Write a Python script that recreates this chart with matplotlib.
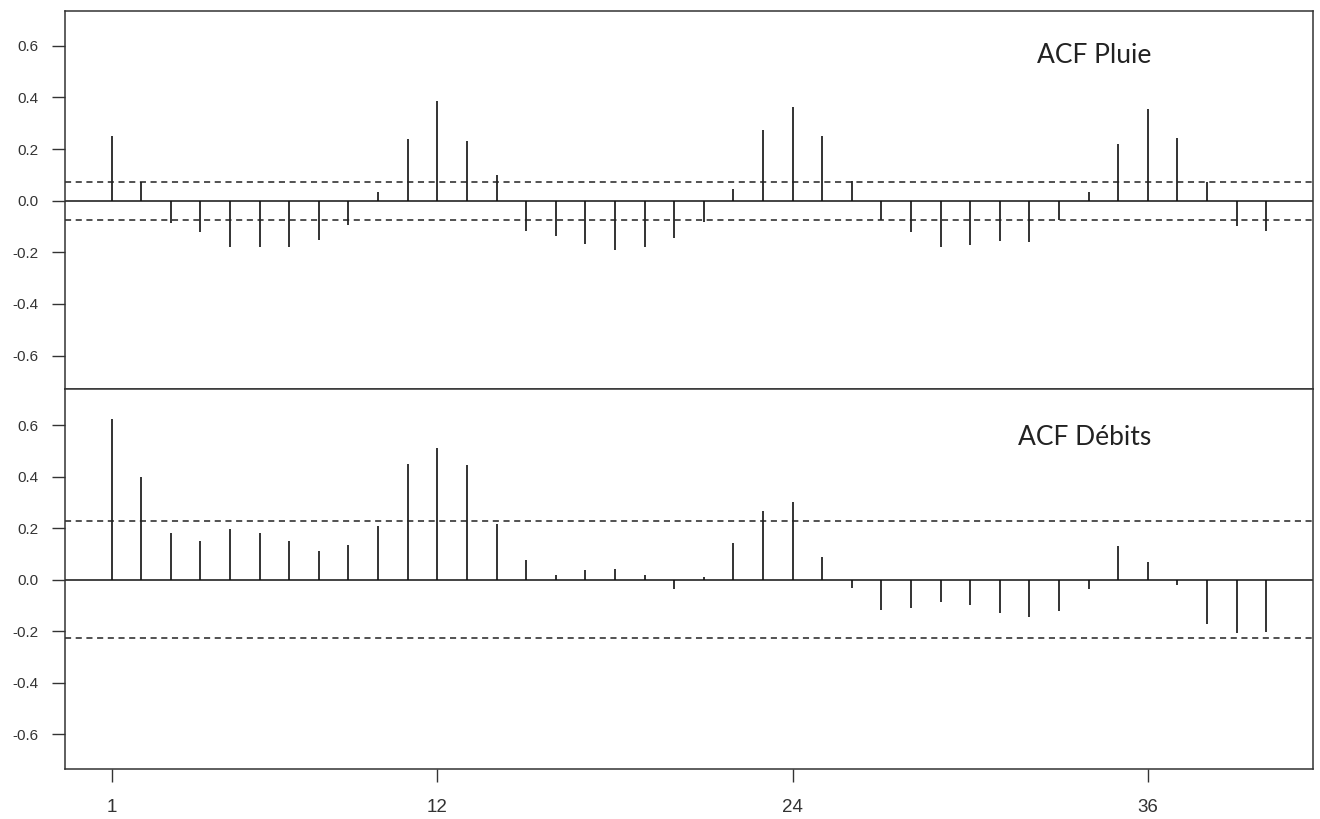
import matplotlib
matplotlib.use("Agg")
import matplotlib.pyplot as plt
import numpy as np

lags = np.arange(1, 41)

acf_pluie = [
    0.250, 0.072, -0.085, -0.120, -0.179, -0.179, -0.179, -0.151, -0.093, 0.035,
    0.239, 0.387, 0.233, 0.098, -0.116, -0.138, -0.168, -0.190, -0.180, -0.145,
    -0.081, 0.045, 0.272, 0.362, 0.250, 0.078, -0.074, -0.121, -0.179, -0.172,
    -0.155, -0.160, -0.074, 0.034, 0.220, 0.356, 0.243, 0.071, -0.098, -0.116,
]
acf_debits = [
    0.625, 0.398, 0.183, 0.149, 0.195, 0.183, 0.149, 0.110, 0.136, 0.210,
    0.450, 0.512, 0.444, 0.217, 0.075, 0.018, 0.036, 0.042, 0.018, -0.038,
    0.012, 0.144, 0.268, 0.301, 0.087, -0.031, -0.117, -0.112, -0.087, -0.100,
    -0.130, -0.145, -0.123, -0.038, 0.130, 0.069, -0.021, -0.174, -0.208, -0.204,
]
conf_pluie = 0.074
conf_debits = 0.227

yticks = [-0.6, -0.4, -0.2, 0.0, 0.2, 0.4, 0.6]
xticks = [1, 12, 24, 36]

plt.rcParams["font.family"] = ["Liberation Sans", "DejaVu Sans"]
fig = plt.figure(figsize=(13.2, 8.19), dpi=100)
ax1 = fig.add_axes([0.0492, 0.5256, 0.9455, 0.461])
ax2 = fig.add_axes([0.0492, 0.0611, 0.9455, 0.4645], sharex=ax1)

frame = "#333333"
panels = [
    (ax1, acf_pluie, conf_pluie, "ACF Pluie", (-0.728, 0.735), (0.825, 0.883)),
    (ax2, acf_debits, conf_debits, "ACF Débits", (-0.735, 0.742), (0.817, 0.871)),
]
for ax, vals, conf, label, ylim, pos in panels:
    ax.vlines(lags, 0, vals, color="#111111", linewidth=1.2)
    ax.axhline(0, color="#111111", linewidth=1.1)
    ax.axhline(conf, color="#222222", linewidth=1.1, linestyle=(0, (4, 3)))
    ax.axhline(-conf, color="#222222", linewidth=1.1, linestyle=(0, (4, 3)))
    ax.set_ylim(*ylim)
    ax.set_yticks(yticks)
    ax.set_yticklabels([f"{v:.1f}" for v in yticks])
    ax.tick_params(axis="both", direction="out", length=9.4, width=1.0,
                   color=frame, labelcolor="#333333")
    ax.tick_params(axis="y", labelsize=11, pad=9.4)
    for sp in ax.spines.values():
        sp.set_color(frame)
        sp.set_linewidth(1.1)
    ax.text(pos[0], pos[1], label, transform=ax.transAxes, ha="center", va="center",
            fontsize=19, family=["Lato", "DejaVu Sans"], color="#222222")

ax1.set_xlim(-0.578, 41.58)
ax2.set_xticks(xticks)
ax2.set_xticklabels([str(v) for v in xticks])
ax1.tick_params(axis="x", bottom=False, labelbottom=False)
ax2.tick_params(axis="x", bottom=True, labelsize=13.5, pad=12)

fig.savefig("out.png", dpi=100)
